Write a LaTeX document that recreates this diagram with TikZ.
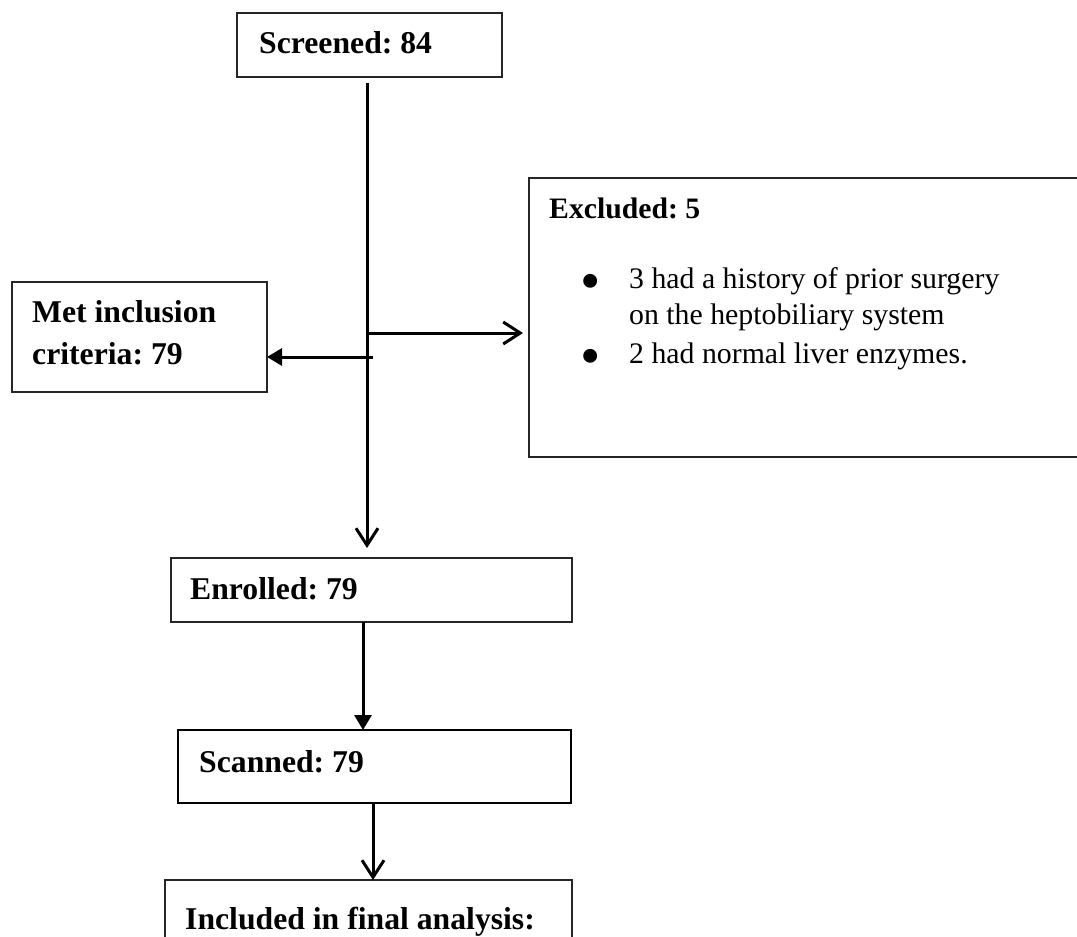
\documentclass[tikz,border=0pt]{standalone}
\usepackage{fontspec}
\setmainfont{Liberation Serif}
\usetikzlibrary{arrows.meta}
\frenchspacing
\begin{document}
\frenchspacing
\begin{tikzpicture}[x=1pt,y=-1pt,
  box/.style={draw=black!85, line width=1.8pt, inner sep=0pt, outer sep=0pt},
  thickbox/.style={draw=black, line width=2.5pt, inner sep=0pt, outer sep=0pt},
  lbl/.style={anchor=base west, inner sep=0pt, font=\fontsize{31.7}{36}\selectfont\bfseries},
  lbls/.style={anchor=base west, inner sep=0pt, font=\fontsize{29.7}{36}\selectfont\bfseries},
  txt/.style={anchor=base west, inner sep=0pt, font=\fontsize{29.8}{36}\selectfont},
  bul/.style={anchor=center, inner sep=0pt, font=\fontsize{58}{58}\selectfont},
  conn/.style={line width=3pt, draw=black},
  openhead/.style={-{Straight Barb[length=17pt,width=22pt,line width=3pt]}},
  filledhead/.style={-{Triangle[length=15pt,width=17pt]}}
]
\useasboundingbox (0,0) rectangle (1077,937);

% boxes
\node[box, minimum width=265pt, minimum height=64pt] (scr) at (369.5,45) {};
\node[box, minimum width=255pt, minimum height=110pt] (met) at (139.5,337) {};
\node[box, minimum width=571pt, minimum height=279pt] (excl) at (814.5,317.5) {};
\node[box, minimum width=401pt, minimum height=64pt] (enr) at (371.5,590) {};
\node[thickbox, minimum width=393pt, minimum height=73pt] (scan) at (374.5,766.5) {};
\node[box, minimum width=407pt, minimum height=80pt] (incl) at (368.5,920) {};

% texts
\node[lbl] (tscr) at (259,53) {Screened: 84};
\node[lbl] (tmet1) at (32,322) {Met inclusion};
\node[lbl] (tmet2) at (32,364) {criteria: 79};
\node[lbls] (texcl) at (549,218) {Excluded: 5};
\node[bul] (b1) at (591,287) {\textbullet};
\node[txt] (l1) at (629,288) {3 had a history of prior surgery};
\node[txt] (l2) at (629,324) {on the heptobiliary system};
\node[bul] (b2) at (591,362) {\textbullet};
\node[txt] (l3) at (629,363) {2 had normal liver enzymes.};
\node[lbl] (tenr) at (190,599) {Enrolled: 79};
\node[lbl] (tscan) at (199,772) {Scanned: 79};
\node[lbl] (tincl) at (185,929) {Included in final analysis:};

% connectors
\coordinate (mtop) at (367,83);
\coordinate (bx) at (367,333);
\coordinate (mx) at (373,357);
\draw[conn, openhead] (mtop) -- ([yshift=10pt]enr.north -| mtop);
\draw[conn, openhead, shorten >=6pt] (bx) -- (bx -| excl.west);
\draw[conn, filledhead] (mx) -- (mx -| met.east);
\draw[conn, filledhead] (enr.south -| 363,0) -- (scan.north -| 363,0);
\draw[conn, openhead] (scan.south -| 373,0) -- (incl.north -| 373,0);
\end{tikzpicture}
\end{document}
